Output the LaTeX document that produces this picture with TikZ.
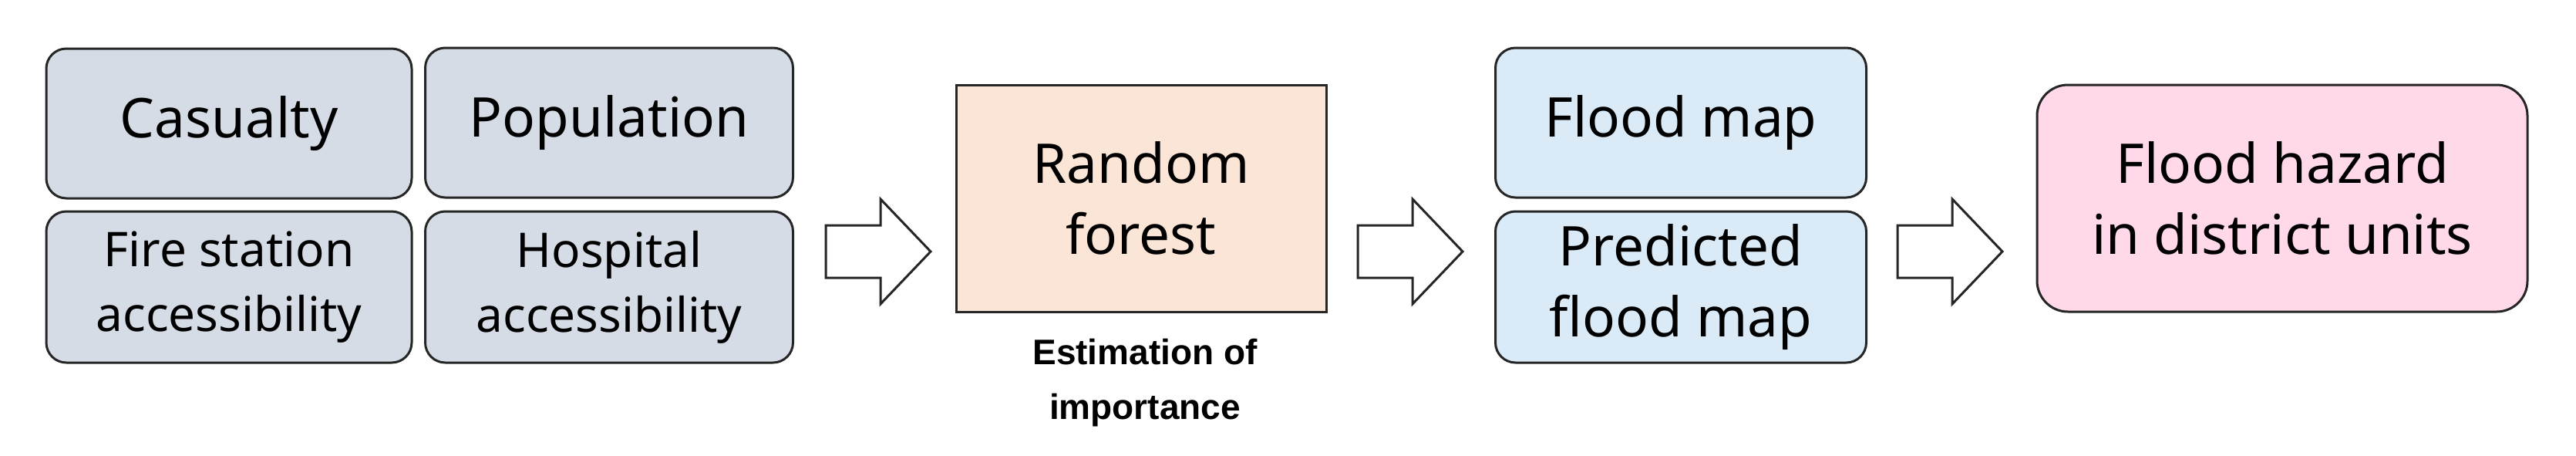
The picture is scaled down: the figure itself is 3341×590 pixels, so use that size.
\documentclass[tikz,border=0pt]{standalone}
\usepackage{fontspec}
\setmainfont{Noto Sans}
\newfontfamily\estfont{Liberation Sans}
\usetikzlibrary{positioning}
\definecolor{cgray}{HTML}{D6DCE5}
\definecolor{cpeach}{HTML}{FBE5D6}
\definecolor{cblue}{HTML}{DAEAF7}
\definecolor{cpink}{HTML}{FFD9EA}
\begin{document}
\begin{tikzpicture}[x=1pt,y=-1pt,
  box/.style={draw=black!85,line width=3pt,rounded corners=26pt,inner sep=0pt,align=center},
  big/.style={font=\fontsize{71}{92}\selectfont},
  small/.style={font=\fontsize{62}{84}\selectfont},
  harrow/.style={draw=black!85,line width=3pt,fill=white,line join=miter}]
\useasboundingbox (0,0) rectangle (3341,590);
\node[box,fill=cgray,big,minimum width=474pt,minimum height=194pt] (cas) at (297,160) {Casualty};
\node[box,fill=cgray,big,minimum width=477pt,minimum height=194pt] (pop) at (790,159) {Population};
\node[box,fill=cgray,small,minimum width=474pt,minimum height=196pt] (fire) at (297,372) {Fire station\\accessibility};
\node[box,fill=cgray,small,minimum width=477pt,minimum height=196pt] (hos) at (790,372) {Hospital\\accessibility};
\node[box,rounded corners=0pt,fill=cpeach,big,minimum width=480pt,minimum height=294pt] (rf) at (1480,257) {Random\\forest};
\node[font=\estfont\bfseries\fontsize{46}{71}\selectfont,align=center] (est) at (1485,496) {Estimation of\\importance};
\node[box,fill=cblue,big,minimum width=481pt,minimum height=194pt] (fm) at (2180,159) {Flood map};
\node[box,fill=cblue,big,minimum width=481pt,minimum height=196pt] (pfm) at (2180,372) {Predicted\\flood map};
\node[box,fill=cpink,big,minimum width=636pt,minimum height=294pt,rounded corners=40pt] (fh) at (2960,257) {Flood hazard\\in district units};
% hollow arrows
\coordinate (a1) at (1071,258);
\coordinate (a2) at (1761,258);
\coordinate (a3) at (2461,258);
\foreach \c in {a1,a2,a3}{
  \draw[harrow] ([yshift=-34pt]\c) -- ++(71,0) -- ++(0,-34) -- ++(65,68) -- ++(-65,68) -- ++(0,-34) -- ++(-71,0) -- cycle;
}
\end{tikzpicture}
\end{document}
